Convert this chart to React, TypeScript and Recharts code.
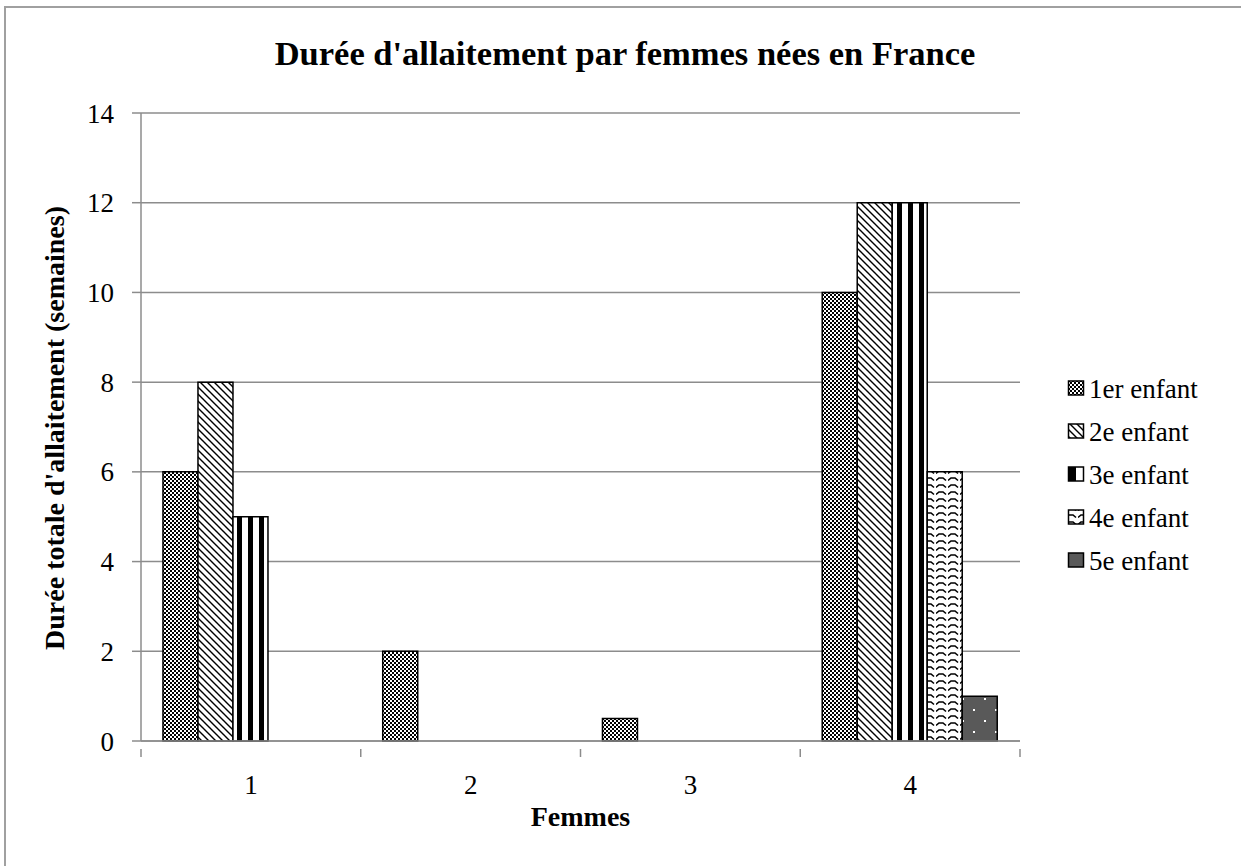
import React from 'react';
import { BarChart, Bar, XAxis, YAxis, CartesianGrid } from 'recharts';

const categories = ['1', '2', '3', '4'];
const seriesNames = ['1er enfant', '2e enfant', '3e enfant', '4e enfant', '5e enfant'];
const s1 = [6, 2, 0.5, 10];
const s2 = [8, null, null, 12];
const s3 = [5, null, null, 12];
const s4 = [null, null, null, 6];
const s5 = [null, null, null, 1];
const yTicks = [0, 2, 4, 6, 8, 10, 12, 14];

const seriesValues = [s1, s2, s3, s4, s5];
const keys = ['s1', 's2', 's3', 's4', 's5'];
const fills = ['url(#pChecker)', 'url(#pDiag)', 'url(#pVert)', 'url(#pWave)', 'url(#pDots)'];
const legendFills = ['url(#pChecker)', 'url(#pDiag)', 'url(#pHalf)', 'url(#pWave)', '#595959'];

const data = categories.map((c, i) => {
  const row: any = { cat: c };
  keys.forEach((k, j) => {
    row[k] = seriesValues[j][i];
  });
  return row;
});

const FONT = '"Liberation Serif", "DejaVu Serif", serif';

const XTick = (props: any) => {
  const { x, y, payload, width, visibleTicksCount, index } = props;
  const half = width / visibleTicksCount / 2;
  const axisY = y;
  return (
    <g>
      <line x1={x - half} x2={x - half} y1={axisY} y2={axisY + 8} stroke="#8c8c8c" strokeWidth={1.5} />
      {index === visibleTicksCount - 1 && (
        <line x1={x + half} x2={x + half} y1={axisY} y2={axisY + 8} stroke="#8c8c8c" strokeWidth={1.5} />
      )}
      <text x={x} y={axisY + 45} textAnchor="middle" fontSize={27} fontFamily={FONT} fill="#000">
        {payload.value}
      </text>
    </g>
  );
};

const Patterns = () => (
  <defs>
    <pattern id="pChecker" width={4} height={4} patternUnits="userSpaceOnUse">
      <rect width={4} height={4} fill="#fff" />
      <rect x={0} y={0} width={2} height={2} fill="#000" />
      <rect x={2} y={2} width={2} height={2} fill="#000" />
    </pattern>
    <pattern id="pDiag" width={7} height={7} patternUnits="userSpaceOnUse">
      <rect width={7} height={7} fill="#fff" />
      <path d="M-1,-1 L8,8 M-1,6 L1,8 M6,-1 L8,1" stroke="#000" strokeWidth={1.4} />
    </pattern>
    <pattern id="pVert" width={11} height={10} patternUnits="userSpaceOnUse">
      <rect width={11} height={10} fill="#fff" />
      <rect x={6} y={0} width={5} height={10} fill="#000" />
    </pattern>
    <pattern id="pHalf" width={20} height={20} patternUnits="userSpaceOnUse" x={2}>
      <rect width={20} height={20} fill="#fff" />
      <rect x={0} y={0} width={8} height={20} fill="#000" />
    </pattern>
    <pattern id="pWave" width={12} height={7} patternUnits="userSpaceOnUse">
      <rect width={12} height={7} fill="#fff" />
      <path d="M0,4.5 L3,2 L7,2 L10,4.5" stroke="#000" strokeWidth={1.6} fill="none" />
    </pattern>
    <pattern id="pDots" width={22} height={22} patternUnits="userSpaceOnUse">
      <rect width={22} height={22} fill="#595959" />
      <rect x={5} y={5} width={2} height={2} fill="#fff" />
      <rect x={16} y={16} width={2} height={2} fill="#fff" />
    </pattern>
  </defs>
);

export default function App() {
  return (
    <div style={{ position: 'absolute', left: 0, top: 0, width: 1241, height: 866, overflow: 'hidden', background: '#fff' }}>
      <div style={{ position: 'absolute', left: 4, top: 6, width: 1260, height: 900, borderTop: '2px solid #a0a0a0', borderLeft: '2px solid #a0a0a0' }} />
      <div style={{ position: 'absolute', left: 0, top: 0 }}>
        <BarChart
          width={1241}
          height={866}
          data={data}
          margin={{ top: 113, right: 221, left: 81, bottom: 95 }}
          barCategoryGap="10%"
          barGap={0}
        >
          <Patterns />
          <CartesianGrid vertical={false} stroke="#8c8c8c" strokeWidth={1.5} />
          <XAxis
            dataKey="cat"
            tickLine={false}
            axisLine={{ stroke: '#8c8c8c', strokeWidth: 1.5 }}
            tick={<XTick />}
            height={30}
            interval={0}
          />
          <YAxis
            domain={[0, 14]}
            ticks={yTicks}
            width={60}
            tickSize={9}
            tickMargin={18}
            tickLine={{ stroke: '#8c8c8c', strokeWidth: 1.5 }}
            axisLine={{ stroke: '#8c8c8c', strokeWidth: 1.5 }}
            tick={{ fontSize: 27, fontFamily: FONT, fill: '#000' }}
          />
          {keys.map((k, i) => (
            <Bar key={k} dataKey={k} name={seriesNames[i]} fill={fills[i]} stroke="#000" strokeWidth={1.5} isAnimationActive={false} />
          ))}
          <text x={625} y={65} textAnchor="middle" fontSize={34.5} fontWeight="bold" fontFamily={FONT} fill="#000">
            Durée d'allaitement par femmes nées en France
          </text>
          <text x={580.5} y={826} textAnchor="middle" fontSize={28} fontWeight="bold" fontFamily={FONT} fill="#000">
            Femmes
          </text>
          <text x={64} y={428} transform="rotate(-90, 64, 428)" textAnchor="middle" fontSize={28} fontWeight="bold" fontFamily={FONT} fill="#000">
            Durée totale d'allaitement (semaines)
          </text>
        </BarChart>
      </div>
      <svg style={{ position: 'absolute', left: 1066, top: 370 }} width={175} height={230}>
        <Patterns />
        {seriesNames.map((n, i) => (
          <g key={n} transform={`translate(0, ${i * 43})`}>
            <rect x={2.5} y={11} width={15} height={14} fill={legendFills[i]} stroke="#000" strokeWidth={1.5} />
            <text x={23} y={28} fontSize={27} fontFamily={FONT} fill="#000">{n}</text>
          </g>
        ))}
      </svg>
    </div>
  );
}
